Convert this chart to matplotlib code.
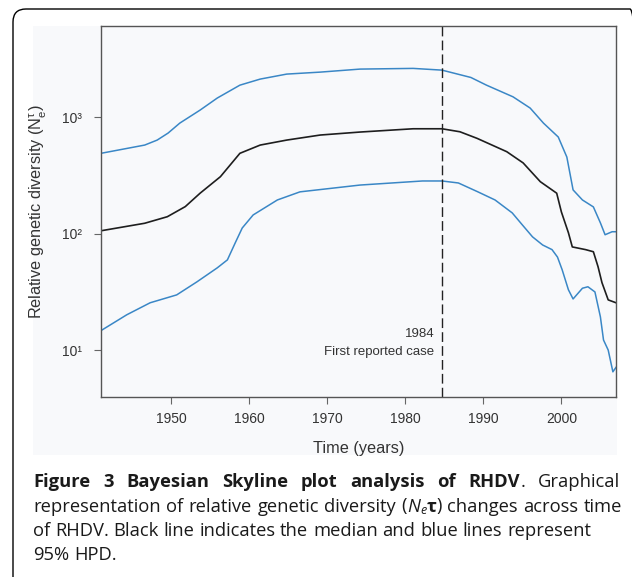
import matplotlib
matplotlib.use('Agg')
import matplotlib.pyplot as plt
from matplotlib.patches import FancyBboxPatch, Rectangle
from matplotlib.transforms import IdentityTransform

# Bayesian skyline: median and 95% HPD
years_upper = [1941.0, 1946.6, 1948.2, 1949.6, 1951.1, 1953.7, 1955.9, 1958.8, 1961.4,
               1964.8, 1969.1, 1974.2, 1981.0, 1984.7, 1988.4, 1990.4, 1993.8, 1996.0,
               1997.7, 1999.6, 2000.7, 2001.5, 2002.7, 2004.1, 2005.0, 2005.6, 2006.5,
               2007.0]
upper = [491, 578, 638, 733, 893, 1155, 1466, 1892, 2133,
         2355, 2449, 2600, 2636, 2547, 2203, 1892, 1502, 1202,
         893, 678, 456, 238, 195, 170, 124, 98, 104,
         104]

years_median = [1941.0, 1946.6, 1949.5, 1951.8, 1953.7, 1956.3, 1958.8, 1961.4, 1964.8,
                1969.1, 1974.2, 1981.0, 1984.7, 1987.0, 1989.2, 1993.0, 1995.1, 1997.3,
                1999.4, 2000.0, 2000.9, 2001.4, 2003.1, 2004.1, 2004.7, 2005.2, 2006.0,
                2007.0]
median = [106, 123, 140, 171, 223, 309, 491, 578, 638,
          705, 748, 798, 798, 752, 660, 507, 406, 280,
          223, 154, 102, 77, 73, 70, 52, 38, 27,
          25.5]

years_lower = [1941.0, 1944.3, 1947.3, 1950.7, 1953.3, 1955.9, 1957.2, 1958.2, 1959.1,
               1960.5, 1963.6, 1966.5, 1974.2, 1982.2, 1984.7, 1986.8, 1989.3, 1991.5,
               1993.7, 1995.0, 1996.3, 1997.6, 1998.8, 1999.5, 2000.1, 2000.9, 2001.5,
               2002.7, 2003.4, 2004.3, 2005.0, 2005.4, 2006.0, 2006.6, 2007.0]
lower = [14.7, 20.1, 25.5, 29.8, 38.6, 50.9, 59.6, 83.4, 112,
         145, 195, 229, 262, 284, 284, 273, 229, 195,
         151, 119, 94, 80, 73, 63, 49, 33, 27.5,
         34, 35, 31.6, 19.3, 12.2, 10.0, 6.5, 7.1]

first_case_year = 1984.7
xticks = [1950, 1960, 1970, 1980, 1990, 2000]
yticks = [10, 100, 1000]
ytick_labels = ['10¹', '10²', '10³']

plt.rcParams['mathtext.fontset'] = 'custom'
plt.rcParams['mathtext.rm'] = 'Liberation Sans'
plt.rcParams['mathtext.it'] = 'Liberation Sans:italic'

W, H = 632, 577
fig = plt.figure(figsize=(W / 100, H / 100), dpi=100)
fig.patch.set_facecolor('white')

# outer rounded frame of the figure box
frame = FancyBboxPatch((13, -40), 630, H - 9 + 40, boxstyle='round,pad=0,rounding_size=13',
                       transform=IdentityTransform(), fill=False, edgecolor='black',
                       linewidth=1.0, zorder=-2)
fig.patches.append(frame)

# light panel behind the plot
panel = Rectangle((33 / W, 1 - 455 / H), (617 - 33) / W, (455 - 26) / H,
                  transform=fig.transFigure, facecolor='#f8f9fb', edgecolor='none',
                  zorder=-1)
fig.patches.append(panel)

ax = fig.add_axes([101 / W, 1 - 397 / H, (616 - 101) / W, (397 - 26) / H])
ax.set_facecolor('#f8f9fb')

blue = '#3a87c6'
ax.plot(years_upper, upper, color=blue, lw=1.1, solid_joinstyle='round')
ax.plot(years_lower, lower, color=blue, lw=1.1, solid_joinstyle='round')
ax.plot(years_median, median, color='#1e1e1e', lw=1.2, solid_joinstyle='round')
ax.axvline(first_case_year, color='#222222', lw=1.0, dashes=(7, 3))

ax.set_yscale('log')
ax.set_xlim(1941, 2007)
ax.set_ylim(3.95, 6100)
ax.set_xticks(xticks)
ax.set_yticks(yticks)
ax.set_yticklabels(ytick_labels)
ax.minorticks_off()

for lab in ax.get_xticklabels() + ax.get_yticklabels():
    lab.set_fontfamily('Liberation Sans')
    lab.set_fontsize(10)
    lab.set_color('#333333')
ax.tick_params(direction='out', length=5, width=0.8, color='#666666')
ax.tick_params(axis='x', pad=6)
ax.tick_params(axis='y', pad=9)
for sp in ax.spines.values():
    sp.set_color('#555555')
    sp.set_linewidth(1.0)

label_font = {'family': 'Liberation Sans', 'size': 11.7, 'color': '#333333'}
ax.set_xlabel('Time (years)', fontdict=label_font)
ax.set_ylabel(r'Relative genetic diversity (N$_\mathregular{e}^\mathregular{τ}$)',
              fontdict=label_font)
ax.xaxis.set_label_coords(0.5, -0.119)
ax.yaxis.set_label_coords(-0.101, 0.5)

note_font = {'family': 'Liberation Sans', 'size': 9.5, 'color': '#333333'}
ax.text(first_case_year - 1.0, 13.0, '1984', ha='right', va='baseline', **note_font)
ax.text(first_case_year - 1.0, 9.0, 'First reported case', ha='right', va='baseline', **note_font)

# caption: words placed one by one so full lines can be justified
renderer = fig.canvas.get_renderer()


def measure(s, kw):
    kw = dict(kw)
    kw.pop('dy', None)
    t = fig.text(0, 0, s, **kw)
    w = t.get_window_extent(renderer).width
    t.remove()
    return w


def draw_line(x_px, y_px, tokens, right_px=None):
    # tokens: (text, style, space_before)
    space = measure('a a', cap) - measure('aa', cap)
    widths = [measure(s, kw) for s, kw, _ in tokens]
    n_sp = sum(1 for _, _, sp in tokens if sp)
    gap = space
    if right_px is not None and n_sp:
        gap = space + (right_px - x_px - sum(widths) - n_sp * space) / n_sp
    x = x_px
    for (s, kw, sp), w in zip(tokens, widths):
        if sp:
            x += gap
        kw = dict(kw)
        dy = kw.pop('dy', 0)
        fig.text(x / W, 1 - (y_px + dy) / H, s, transform=fig.transFigure,
                 ha='left', va='baseline', **kw)
        x += w


def words(text, style, first_space=True):
    return [(wd, style, first_space or i > 0) for i, wd in enumerate(text.split(' '))]


cap = {'family': 'Open Sans', 'size': 13.2, 'color': '#1a1a1a'}
capb = dict(cap, weight='bold')
capi = dict(cap, style='italic')
capsub = dict(cap, style='italic', size=9, dy=3)

line1 = words('Figure 3 Bayesian Skyline plot analysis of RHDV', capb, False) + \
    [('.', cap, False), ('Graphical', cap, True)]
line2 = words('representation of relative genetic diversity', cap, False) + \
    [('(', cap, True), ('N', capi, False), ('e', capsub, False), ('τ', capb, False),
     (')', cap, False)] + words('changes across time', cap, True)
draw_line(33, 487, line1, right_px=620)
draw_line(33, 511.5, line2, right_px=622)
draw_line(33, 535.7, words('of RHDV. Black line indicates the median and blue lines represent', cap, False))
draw_line(33, 559.5, words('95% HPD.', cap, False))

fig.savefig('out.png', dpi=100)
